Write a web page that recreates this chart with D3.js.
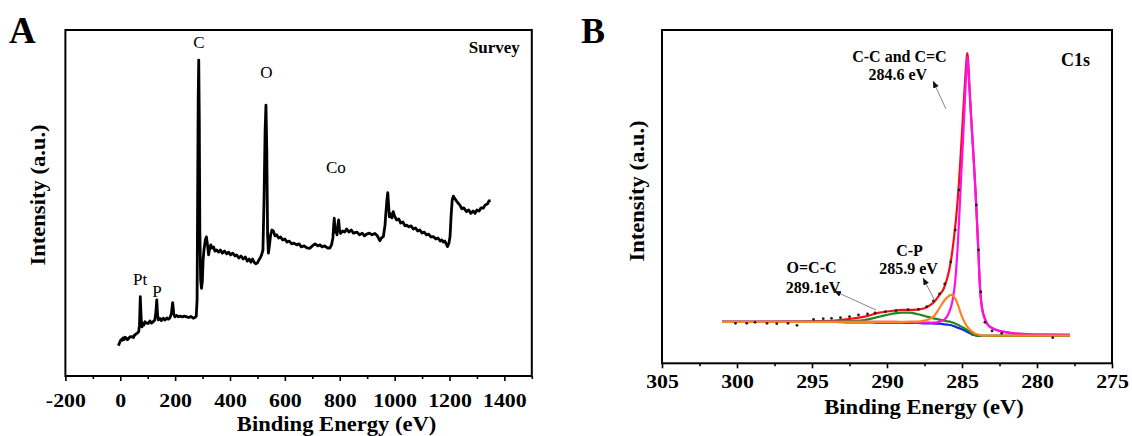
<!DOCTYPE html>
<html>
<head>
	<meta charset="utf-8">
	<title>XPS survey and C1s</title>
	<script type="text/javascript" src="https://cdn.jsdelivr.net/npm/d3@7"></script>
	<style>
		body {
			margin: 0;
			background: #fff;
		}
		svg {
			display: block;
			font-family: "Liberation Serif", "Times New Roman", serif;
		}
	</style>
</head>

<body>

	<div id="chart"></div>

	<script>

		// ---- panel A : survey spectrum ----

		const surveyEnergy = [
			-7, -3, 0, 3, 6, 10, 14, 17, 22, 26,
			30, 35, 42, 48, 52, 57, 62, 67, 70, 73,
			76, 79, 82, 86, 90, 95, 102, 108, 114, 120,
			126, 130, 133, 136, 139, 145, 150, 157, 163, 170,
			175, 181, 186, 191, 195, 199, 205, 212, 218, 226,
			234, 242, 250, 258, 266, 272, 277, 280, 282, 284,
			286, 288, 290, 293, 296, 299, 302, 305, 310, 314,
			318, 322, 326, 330, 334, 340, 345, 351, 358, 365,
			372, 380, 388, 395, 402, 410, 418, 424, 432, 440,
			448, 456, 463, 470, 476, 482, 488, 494, 500, 505,
			510, 515, 520, 524, 528, 531, 534, 537, 540, 544,
			548, 553, 558, 564, 570, 577, 584, 592, 600, 608,
			616, 625, 633, 643, 652, 660, 670, 680, 691, 700,
			710, 720, 728, 736, 745, 755, 764, 770, 775, 778,
			780, 783, 787, 790, 793, 796, 799, 803, 810, 818,
			825, 833, 842, 850, 862, 872, 882, 890, 898, 908,
			918, 928, 937, 946, 952, 959, 965, 968, 972, 975,
			978, 981, 986, 990, 995, 1000, 1007, 1015, 1022, 1030,
			1038, 1044, 1052, 1060, 1068, 1076, 1084, 1092, 1100, 1108,
			1116, 1124, 1132, 1141, 1150, 1158, 1166, 1172, 1177, 1183,
			1188, 1193, 1198, 1202, 1206, 1210, 1214, 1220, 1228, 1238,
			1245, 1252, 1262, 1270, 1278, 1286, 1293, 1300, 1308, 1315,
			1323, 1330, 1338, 1344, 1350
		];

		const surveyIntensity = [
			8.8, 9.5, 10.1, 10.5, 10.3, 11.0, 10.5, 11.2, 11.0, 10.5,
			10.8, 11.3, 11.4, 11.1, 11.8, 12.1, 12.4, 12.8, 14.7, 22.9,
			16.8, 14.2, 15.2, 14.7, 15.7, 15.3, 15.2, 15.9, 15.3, 15.7,
			16.2, 18.5, 22.0, 17.6, 16.2, 16.6, 16.0, 16.7, 16.2, 16.8,
			16.4, 16.8, 17.9, 21.2, 17.9, 17.1, 17.5, 17.1, 17.3, 17.1,
			17.3, 17.1, 16.9, 17.2, 16.7, 16.9, 17.3, 22.0, 50.9, 79.8,
			91.3, 74.0, 42.2, 27.7, 25.3, 27.2, 33.5, 36.4, 39.3, 40.2,
			37.9, 35.0, 37.0, 37.9, 37.0, 37.3, 36.1, 36.4, 35.8, 36.4,
			35.5, 36.1, 35.3, 35.8, 35.0, 35.5, 34.7, 35.0, 34.1, 34.7,
			33.8, 34.4, 33.2, 33.8, 32.9, 33.8, 32.9, 32.4, 32.7, 33.5,
			34.1, 35.0, 36.4, 50.9, 71.1, 78.3, 65.3, 40.8, 35.5, 37.9,
			40.8, 42.2, 41.9, 40.5, 40.8, 39.9, 40.2, 39.3, 39.6, 38.7,
			39.0, 38.2, 38.4, 37.9, 38.2, 37.3, 37.6, 37.0, 36.9, 37.6,
			38.2, 37.6, 37.9, 37.3, 37.6, 37.0, 37.0, 37.9, 39.9, 43.6,
			45.6, 41.6, 42.2, 40.8, 43.6, 45.1, 42.2, 41.2, 41.9, 41.6,
			42.5, 41.6, 42.2, 41.3, 41.6, 40.8, 41.3, 40.5, 41.0, 41.3,
			40.8, 41.2, 40.5, 39.1, 39.9, 40.3, 43.6, 47.0, 50.9, 53.0,
			49.4, 46.0, 46.8, 45.7, 47.5, 46.2, 45.1, 45.4, 44.2, 44.5,
			43.4, 43.6, 43.1, 43.4, 42.5, 42.8, 41.9, 42.2, 41.3, 41.6,
			40.8, 41.0, 40.2, 40.3, 39.6, 39.9, 39.0, 39.3, 38.7, 39.0,
			38.2, 37.4, 38.4, 40.3, 46.5, 50.9, 52.0, 51.2, 50.3, 49.4,
			48.3, 48.6, 47.5, 48.0, 47.0, 47.7, 47.0, 48.0, 47.7, 48.6,
			48.5, 49.4, 49.7, 50.6, 50.7
		];

		const surveyTicks = [-200, 0, 200, 400, 600, 800, 1000, 1200, 1400];
		const surveyMinorTicks = [-100, 100, 300, 500, 700, 900, 1100, 1300, 1500];

		const peakLabels = ["C", "O", "Co", "Pt", "P"];
		const peakLabelEnergy = [287, 533, 786, 72, 134];
		const peakLabelIntensity = [94.8, 86.1, 58.7, 26.3, 22.9];

		// ---- panel B : C1s high resolution ----

		const c1sEnergy = [
			301, 299, 297, 295, 293.5, 292.5, 291.5, 290.5, 289.5, 289,
			288.5, 288, 287.5, 287.1, 286.8, 286.5, 286.2, 286.0, 285.8, 285.7,
			285.6, 285.5, 285.4, 285.3, 285.2, 285.1, 285.0, 284.9, 284.8, 284.7,
			284.65, 284.6, 284.5, 284.4, 284.3, 284.2, 284.1, 284.0, 283.9, 283.8,
			283.7, 283.6, 283.5, 283.35, 283.2, 283.0, 282.7, 282.3, 281.6, 280.5,
			279.5, 277.8
		];

		const c1sEnvelope = [
			12.4, 12.4, 12.5, 12.6, 12.8, 13.3, 14.0, 15.2, 15.8, 16.0,
			16.0, 16.1, 16.5, 17.5, 18.7, 20.5, 22.6, 25.3, 29.2, 31.9,
			35.2, 39.1, 43.3, 48.4, 54.4, 61.6, 69.1, 76.9, 84.4, 91.0,
			93.1, 91.3, 82.9, 74.8, 67.3, 59.8, 51.7, 42.7, 32.8, 22.9,
			17.8, 15.2, 13.7, 12.1, 11.2, 10.6, 10.0, 9.5, 9.0, 8.7,
			8.6, 8.5
		];

		const c1sBackground = [
			12.4, 12.4, 12.4, 12.4, 12.4, 12.3, 12.3, 12.2, 12.2, 12.2,
			12.1, 12.1, 12.0, 12.0, 11.9, 11.9, 11.7, 11.6, 11.5, 11.4,
			11.2, 11.1, 10.9, 10.7, 10.6, 10.4, 10.2, 10.0, 9.8, 9.5,
			9.4, 9.3, 9.1, 8.9, 8.6, 8.5, 8.4, 8.3, 8.2, 8.2,
			8.2, 8.2, 8.2, 8.2, 8.2, 8.2, 8.2, 8.2, 8.2, 8.2,
			8.2, 8.2
		];

		const c1sOCC = [
			12.4, 12.4, 12.4, 12.5, 12.5, 12.7, 13.0, 14.0, 15.0, 15.2,
			15.2, 14.8, 14.2, 13.7, 13.4, 13.1, 12.8, 12.6, 12.5, 12.3,
			12.2, 12.0, 11.8, 11.6, 11.4, 11.1, 10.9, 10.7, 10.4, 10.1,
			10.0, 9.8, 9.5, 9.2, 8.9, 8.6, 8.5, 8.3, 8.3, 8.2,
			8.2, 8.2, 8.2, 8.2, 8.2, 8.2, 8.2, 8.2, 8.2, 8.2,
			8.2, 8.2
		];

		const c1sCC = [
			12.4, 12.4, 12.4, 12.4, 12.4, 12.4, 12.4, 12.4, 12.4, 12.3,
			12.3, 12.2, 12.2, 12.2, 12.2, 12.5, 13.1, 14.0, 16.0, 17.5,
			19.6, 22.6, 27.4, 34.0, 42.4, 52.0, 61.0, 70.0, 79.6, 88.6,
			91.9, 89.8, 82.0, 74.2, 67.0, 59.5, 51.4, 42.4, 32.5, 22.6,
			17.5, 15.1, 13.6, 12.0, 11.2, 10.6, 10.0, 9.5, 9.0, 8.7,
			8.6, 8.5
		];

		const c1sCP = [
			12.4, 12.4, 12.4, 12.4, 12.4, 12.4, 12.4, 12.4, 12.4, 12.4,
			12.5, 12.5, 12.8, 13.4, 14.5, 16.6, 18.7, 19.7, 20.4, 20.5,
			20.3, 19.7, 19.0, 17.9, 16.6, 15.2, 14.0, 13.0, 12.1, 11.3,
			11.0, 10.7, 10.2, 9.8, 9.4, 9.1, 8.9, 8.7, 8.6, 8.5,
			8.4, 8.3, 8.3, 8.3, 8.3, 8.3, 8.3, 8.3, 8.3, 8.3,
			8.3, 8.3
		];

		const rawEnergy = [
			300.1, 299.35, 298.8, 298.0, 297.35, 296.6, 296.0, 294.9, 294.25, 293.7,
			293.1, 292.5, 291.9, 291.3, 290.8, 290.1, 289.4, 288.6, 287.9, 287.35,
			286.9, 286.5, 286.15, 285.75, 285.45, 285.2, 284.05, 283.9, 283.75, 283.47,
			283.0, 282.35, 278.95
		];
		const rawIntensity = [
			12.0, 12.0, 12.3, 12.0, 11.9, 12.0, 11.4, 13.2, 13.4, 13.5,
			13.7, 14.0, 14.5, 14.8, 15.1, 15.5, 15.8, 16.1, 16.2, 17.0,
			18.7, 20.8, 23.8, 30.4, 40.0, 52.0, 47.5, 34.0, 21.4, 12.3,
			9.7, 9.0, 7.7
		];

		const c1sTicks = [305, 300, 295, 290, 285, 280, 275];
		const c1sMinorTicks = [302.5, 297.5, 292.5, 287.5, 282.5, 277.5];

		const c1sLabels = ["C-C and C=C", "284.6 eV", "C-P", "285.9 eV", "O=C-C", "289.1eV"];
		const c1sLabelEnergy = [289.17, 289.28, 288.5, 288.56, 295.03, 294.93];
		const c1sLabelIntensity = [90.5, 85.0, 32.2, 26.8, 27.2, 21.2];

		const arrowFrom = [[286.07, 76.3], [286.8, 18.7], [290.73, 16.0]];
		const arrowTo = [[286.93, 84.7], [287.6, 25.6], [293.53, 21.7]];

		// ---- drawing ----

		const width = 1132;
		const height = 436;

		const svg = d3.select("#chart")
			.append("svg")
			.attr("width", width)
			.attr("height", height)
			.attr("viewBox", [0, 0, width, height]);

		svg.append("rect").attr("width", width).attr("height", height).attr("fill", "#fff");

		svg.append("defs").append("marker")
			.attr("id", "head")
			.attr("markerUnits", "userSpaceOnUse")
			.attr("markerWidth", 8)
			.attr("markerHeight", 7)
			.attr("refX", 7)
			.attr("refY", 3)
			.attr("orient", "auto")
			.append("path")
			.attr("d", "M0,0L7,3L0,6Z")
			.attr("fill", "#111");

		const xA = d3.scaleLinear().domain([-200, 1500]).range([65.4, 531.8]);
		const yA = d3.scaleLinear().domain([0, 100]).range([376, 30]);
		const xB = d3.scaleLinear().domain([305, 275]).range([662, 1112]);
		const yB = d3.scaleLinear().domain([0, 100]).range([363.3, 30]);

		// frame + bottom ticks for a panel
		function frame(x, y, major, minor, labelY) {
			const [x0, x1] = x.range();
			const [y1, y0] = y.range();

			const major_ = svg.append("g")
				.attr("transform", `translate(0,${y1})`)
				.call(d3.axisBottom(x).tickValues(major).tickSize(5).tickFormat(d => String(d)));
			major_.select(".domain").remove();
			major_.selectAll("line").attr("stroke", "#000").attr("stroke-width", 1.6);
			major_.selectAll("text")
				.attr("y", labelY)
				.attr("dy", null)
				.attr("fill", "#000")
				.attr("font-size", 19)
				.attr("font-weight", "bold")
				.attr("font-family", "Liberation Serif, serif")
				.attr("transform", "scale(1.15,1)");

			const minor_ = svg.append("g")
				.attr("transform", `translate(0,${y1})`)
				.call(d3.axisBottom(x).tickValues(minor).tickSize(3).tickFormat(""));
			minor_.select(".domain").remove();
			minor_.selectAll("line").attr("stroke", "#000").attr("stroke-width", 1.6);

			svg.append("rect")
				.attr("x", x0)
				.attr("y", y0)
				.attr("width", x1 - x0)
				.attr("height", y1 - y0)
				.attr("fill", "none")
				.attr("stroke", "#000")
				.attr("stroke-width", 2);
		}

		function stretched(x, y, text, size, rotate) {
			return svg.append("text")
				.attr("transform", `translate(${x},${y})${rotate ? " rotate(-90)" : ""} scale(1.13,1)`)
				.attr("text-anchor", "middle")
				.attr("font-size", size)
				.attr("font-weight", "bold")
				.text(text);
		}

		// panel A
		svg.append("path")
			.datum(d3.zip(surveyEnergy, surveyIntensity))
			.attr("fill", "none")
			.attr("stroke", "#000")
			.attr("stroke-width", 2.8)
			.attr("stroke-linejoin", "round")
			.attr("d", d3.line().x(d => xA(d[0])).y(d => yA(d[1])));

		frame(xA, yA, surveyTicks, surveyMinorTicks, 30.7);

		svg.append("g")
			.selectAll("text")
			.data(peakLabels)
			.join("text")
			.attr("x", (d, i) => xA(peakLabelEnergy[i]))
			.attr("y", (d, i) => yA(peakLabelIntensity[i]))
			.attr("text-anchor", "middle")
			.attr("font-size", 17)
			.text(d => d);

		svg.append("text")
			.attr("x", xA.range()[1] - 12)
			.attr("y", 53)
			.attr("text-anchor", "end")
			.attr("font-size", 17)
			.attr("font-weight", "bold")
			.text("Survey");

		stretched(336.6, 430.5, "Binding Energy (eV)", 20, false);
		stretched(45, 195, "Intensity (a.u.)", 20, true);

		svg.append("text")
			.attr("x", 9).attr("y", 43)
			.attr("font-size", 37)
			.attr("font-weight", "bold")
			.text("A");

		// panel B
		const lineB = values => d3.line()
			.curve(d3.curveMonotoneX)
			.x((d, i) => xB(c1sEnergy[i]))
			.y(d => yB(d))(values);

		const fits = [
			{ values: c1sEnvelope, color: "#ee1111" },
			{ values: c1sBackground, color: "#1c22e0" },
			{ values: c1sOCC, color: "#1e8a1e" },
			{ values: c1sCC, color: "#ff10e8" },
			{ values: c1sCP, color: "#f7861c" }
		];

		svg.append("g")
			.selectAll("path")
			.data(fits)
			.join("path")
			.attr("fill", "none")
			.attr("stroke", d => d.color)
			.attr("stroke-width", 2.2)
			.attr("stroke-linejoin", "round")
			.attr("d", d => lineB(d.values));

		svg.append("g")
			.selectAll("circle")
			.data(rawEnergy)
			.join("circle")
			.attr("cx", d => xB(d))
			.attr("cy", (d, i) => yB(rawIntensity[i]))
			.attr("r", 1.4)
			.attr("fill", "#222");

		frame(xB, yB, c1sTicks, c1sMinorTicks, 24.7);

		svg.append("g")
			.selectAll("text")
			.data(c1sLabels)
			.join("text")
			.attr("x", (d, i) => xB(c1sLabelEnergy[i]))
			.attr("y", (d, i) => yB(c1sLabelIntensity[i]))
			.attr("text-anchor", "middle")
			.attr("font-size", 16)
			.attr("font-weight", "bold")
			.text(d => d);

		svg.append("g")
			.selectAll("line")
			.data(arrowFrom)
			.join("line")
			.attr("x1", d => xB(d[0]))
			.attr("y1", d => yB(d[1]))
			.attr("x2", (d, i) => xB(arrowTo[i][0]))
			.attr("y2", (d, i) => yB(arrowTo[i][1]))
			.attr("stroke", "#888")
			.attr("stroke-width", 1)
			.attr("marker-end", "url(#head)");

		svg.append("text")
			.attr("x", xB.range()[1] - 22)
			.attr("y", 66)
			.attr("text-anchor", "end")
			.attr("font-size", 18)
			.attr("font-weight", "bold")
			.text("C1s");

		stretched(924, 414, "Binding Energy (eV)", 20, false);
		stretched(643.5, 191, "Intensity (a.u.)", 20, true);

		svg.append("text")
			.attr("x", 581).attr("y", 43)
			.attr("font-size", 36)
			.attr("font-weight", "bold")
			.text("B");

	</script>

</body>

</html>
